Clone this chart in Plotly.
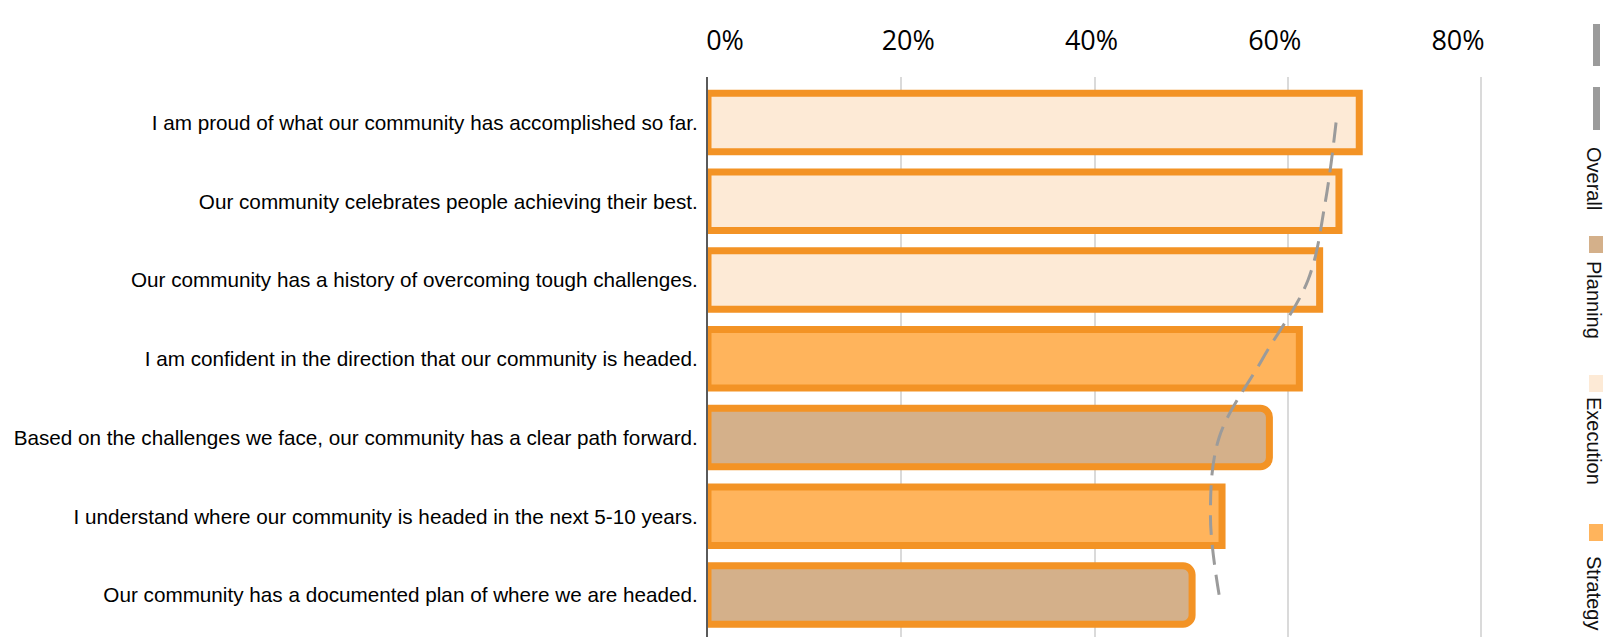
import plotly.graph_objects as go

# Survey statements, top to bottom
statements = [
    "I am proud of what our community has accomplished so far.",
    "Our community celebrates people achieving their best.",
    "Our community has a history of overcoming tough challenges.",
    "I am confident in the direction that our community is headed.",
    "Based on the challenges we face, our community has a clear path forward.",
    "I understand where our community is headed in the next 5-10 years.",
    "Our community has a documented plan of where we are headed.",
]
# Theme of each statement
themes = ["Execution", "Execution", "Execution", "Strategy", "Planning", "Strategy", "Planning"]
# Share agreeing (%) for the highlighted group
agree_pct = [67.4, 65.3, 63.3, 61.2, 58.1, 53.2, 50.1]
# Overall share agreeing (%)
overall_pct = [65.0, 63.9, 62.1, 57.4, 52.9, 52.0, 52.9]

axis_ticks = [0, 20, 40, 60, 80]
axis_ticktext = ["0%", "20%", "40%", "60%", "80%"]

theme_fill = {"Planning": "#D4B08A", "Execution": "#FDEAD6", "Strategy": "#FFB45C"}
OUTLINE = "#F39325"
LINE_GREY = "#9B9B9B"

W, H = 1604, 637
ML, MR, MT, MB = 708, 104, 77, 0
PX_PER_PCT = 9.6625

fig = go.Figure()

for theme in ["Execution", "Strategy", "Planning"]:
    ys = [s for s, t in zip(statements, themes) if t == theme]
    xs = [v for v, t in zip(agree_pct, themes) if t == theme]
    fig.add_trace(go.Bar(
        x=xs, y=ys, orientation="h", name=theme, width=0.74,
        marker=dict(color=theme_fill[theme], line=dict(color=OUTLINE, width=7),
                    cornerradius=9 if theme == "Planning" else 0),
        showlegend=False,
    ))

fig.add_trace(go.Scatter(
    x=overall_pct, y=statements, mode="lines", name="Overall",
    line=dict(color=LINE_GREY, width=3, dash="20px,10px", shape="spline", smoothing=1),
    showlegend=False,
))

# Carrier for the top percentage scale
fig.add_trace(go.Scatter(
    x=[axis_ticks[0]], y=[statements[0]], xaxis="x2", mode="markers",
    marker=dict(opacity=0), hoverinfo="skip", showlegend=False,
))

plot_w = W - ML - MR
x_max = plot_w / PX_PER_PCT
row_px = 78.75
first_center = 122.5
y_top = -(first_center - MT) / row_px
y_bot = (H - MB - first_center) / row_px

# Top percentage scale
lab_first = 725.0
lab_step = 9.1625
x2_lo = (ML - lab_first) / lab_step
x2_hi = (W - MR - lab_first) / lab_step

fig.update_layout(
    width=W, height=H,
    margin=dict(l=ML, r=MR, t=MT, b=MB, pad=0),
    paper_bgcolor="white", plot_bgcolor="white",
    barmode="overlay",
    xaxis=dict(range=[0, x_max], tickvals=axis_ticks, showticklabels=False,
               showgrid=True, gridcolor="#DADADA", gridwidth=2,
               zeroline=False, showline=False, ticks="", layer="below traces"),
    xaxis2=dict(range=[x2_lo, x2_hi], overlaying="x", side="top", anchor="y",
                tickvals=axis_ticks, ticktext=axis_ticktext, showgrid=False,
                zeroline=False, showline=False, ticks="", ticklabelstandoff=21,
                tickfont=dict(family="Open Sans", size=27, color="#000000")),
    yaxis=dict(categoryorder="array", categoryarray=statements,
               range=[y_bot, y_top], showgrid=False, zeroline=False,
               showline=True, linecolor="#5A5A5A", linewidth=2, ticks="",
               ticklabelstandoff=4, layer="below traces",
               tickfont=dict(family="Liberation Sans, Arial", size=20.7, color="#000000")),
    font=dict(family="Liberation Sans, Arial"),
)


def px_x(px):
    return (px - ML) / plot_w


def px_y(py):
    return 1 - (py - MT) / (H - MT - MB)


# Vertical legend at the right edge
for y0, y1 in [(24, 66), (87, 130)]:
    fig.add_shape(type="rect", xref="paper", yref="paper",
                  x0=px_x(1593), x1=px_x(1600), y0=px_y(y1), y1=px_y(y0),
                  fillcolor=LINE_GREY, line=dict(width=0))

legend_items = [
    ("Overall", None, None, 178),
    ("Planning", theme_fill["Planning"], (236, 253), 300),
    ("Execution", theme_fill["Execution"], (375, 392), 441),
    ("Strategy", theme_fill["Strategy"], (524, 541), 593),
]
for label, color, sw, text_mid in legend_items:
    if color:
        fig.add_shape(type="rect", xref="paper", yref="paper",
                      x0=px_x(1589), x1=px_x(1603), y0=px_y(sw[1]), y1=px_y(sw[0]),
                      fillcolor=color, line=dict(width=0))
    fig.add_annotation(text=label, xref="paper", yref="paper",
                       x=px_x(1594), y=px_y(text_mid), textangle=90,
                       showarrow=False, xanchor="center", yanchor="middle",
                       font=dict(family="Liberation Sans, Arial", size=20, color="#111111"))

fig.write_html("out.html")
